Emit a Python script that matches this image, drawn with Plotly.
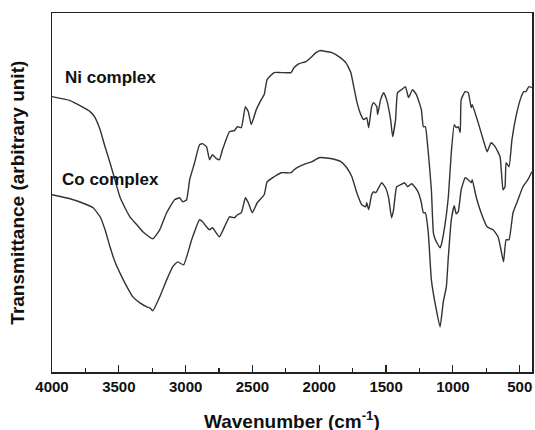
import plotly.graph_objects as go

# Ni complex spectrum (wavenumber cm-1, transmittance arbitrary unit)
ni_wavenumber = [4000, 3864, 3715, 3678, 3640, 3603, 3566, 3529, 3492, 3454, 3417, 3365, 3320, 3246,
                 3194, 3142, 3083, 3045, 3022, 2993, 2970, 2933, 2896, 2873, 2844, 2821, 2799, 2769,
                 2747, 2724, 2672, 2635, 2613, 2583, 2553, 2531, 2509, 2471, 2434, 2412, 2390, 2338,
                 2285, 2211, 2188, 2151, 2099, 2062, 2025, 1987, 1950, 1905, 1853, 1801, 1764, 1742,
                 1719, 1689, 1667, 1645, 1630, 1608, 1593, 1570, 1563, 1541, 1518, 1496, 1466, 1451,
                 1429, 1414, 1384, 1355, 1332, 1302, 1273, 1236, 1221, 1206, 1184, 1161, 1146, 1131,
                 1096, 1087, 1057, 1034, 1012, 990, 975, 960, 945, 938, 908, 885, 863, 855, 811, 773,
                 744, 714, 684, 647, 625, 610, 602, 580, 558, 528, 491, 469, 454, 431, 409]
ni_transmittance = [275, 271, 260, 254, 242, 225, 209, 192, 175, 164, 155, 147, 140, 133,
                    142, 159, 172, 174, 170, 172, 192, 209, 227, 228, 225, 212, 217, 213,
                    212, 222, 240, 241, 245, 244, 265, 260, 247, 262, 272, 277, 292, 299,
                    299, 299, 304, 308, 310, 314, 319, 321, 320, 319, 315, 309, 299, 285,
                    270, 257, 252, 254, 244, 265, 269, 265, 257, 272, 279, 272, 252, 235,
                    252, 279, 282, 285, 274, 282, 277, 262, 245, 245, 219, 182, 139, 132,
                    124, 127, 149, 175, 219, 247, 244, 245, 239, 272, 280, 279, 264, 267, 249, 232,
                    220, 229, 225, 215, 182, 185, 209, 205, 232, 255, 274, 280, 280, 285, 284]

# Co complex spectrum
co_wavenumber = [4000, 3864, 3739, 3692, 3640, 3603, 3566, 3529, 3492, 3439, 3395, 3342, 3290, 3268,
                 3246, 3194, 3142, 3097, 3060, 3015, 2955, 2896, 2873, 2844, 2821, 2799, 2747, 2672,
                 2635, 2613, 2583, 2553, 2531, 2501, 2464, 2412, 2390, 2338, 2285, 2211, 2188, 2151,
                 2099, 2054, 2002, 1965, 1905, 1838, 1794, 1756, 1719, 1682, 1652, 1645, 1630, 1608,
                 1593, 1578, 1563, 1533, 1504, 1481, 1459, 1444, 1421, 1392, 1362, 1339, 1310, 1280,
                 1258, 1236, 1221, 1206, 1184, 1161, 1131, 1096, 1072, 1049, 1034, 1012, 990, 975,
                 960, 938, 908, 885, 863, 855, 826, 789, 744, 699, 662, 640, 621, 602, 580, 550,
                 513, 476, 439, 409]
co_transmittance = [177, 173, 167, 164, 155, 142, 125, 110, 99, 85, 75, 69, 65, 64,
                    61, 75, 92, 105, 110, 107, 132, 152, 150, 145, 142, 144, 135, 155,
                    154, 157, 159, 174, 169, 159, 169, 177, 190, 195, 199, 199, 202, 205,
                    208, 210, 214, 214, 213, 210, 204, 195, 179, 167, 165, 169, 162, 177,
                    180, 179, 182, 189, 184, 174, 154, 162, 185, 187, 189, 185, 188, 184,
                    179, 169, 159, 159, 139, 92, 67, 45, 70, 85, 115, 152, 166, 158,
                    160, 182, 194, 192, 189, 192, 175, 159, 145, 142, 135, 122, 110, 132, 132, 159,
                    172, 185, 192, 200]

x_tick_values = [4000, 3500, 3000, 2500, 2000, 1500, 1000, 500]
x_tick_labels = ["4000", "3500", "3000", "2500", "2000", "1500", "1000", "500"]
x_minor_ticks = [3750, 3250, 2750, 2250, 1750, 1250, 750]

FONT = "Liberation Sans, Arial, Helvetica, sans-serif"
LINE = "#333333"

fig = go.Figure()
fig.add_trace(go.Scatter(x=ni_wavenumber, y=ni_transmittance, mode="lines",
                         line=dict(color=LINE, width=1.4, shape="spline", smoothing=0.4),
                         name="Ni complex", showlegend=False))
fig.add_trace(go.Scatter(x=co_wavenumber, y=co_transmittance, mode="lines",
                         line=dict(color=LINE, width=1.4, shape="spline", smoothing=0.4),
                         name="Co complex", showlegend=False))

fig.update_layout(
    width=535, height=430,
    margin=dict(l=52, r=1, t=13, b=58),
    paper_bgcolor="white", plot_bgcolor="white",
    font=dict(family=FONT, color="#111111"),
    xaxis=dict(
        range=[4000, 408],
        tickmode="array", tickvals=x_tick_values,
        ticktext=["<b>%s</b>" % t for t in x_tick_labels],
        tickfont=dict(size=15, family=FONT, color="#111111"),
        ticks="inside", ticklen=7, tickwidth=1.2, tickcolor="#222222",
        minor=dict(ticks="inside", ticklen=4, tickwidth=1.2, tickcolor="#222222",
                   tickvals=x_minor_ticks),
        showline=True, linecolor="#222222", linewidth=1.5, mirror=True,
        showgrid=False, zeroline=False,
    ),
    yaxis=dict(
        range=[0, 358.5],
        showticklabels=False, ticks="",
        showline=True, linecolor="#222222", linewidth=1.5, mirror=True,
        showgrid=False, zeroline=False,
    ),
    annotations=[
        dict(text="<b>Ni complex</b>", x=3920, y=294, xref="x", yref="y",
             xanchor="left", yanchor="middle", showarrow=False,
             font=dict(size=17, family=FONT, color="#111111")),
        dict(text="<b>Co complex</b>", x=3940, y=192, xref="x", yref="y",
             xanchor="left", yanchor="middle", showarrow=False,
             font=dict(size=17, family=FONT, color="#111111")),
        dict(text="<b>Wavenumber (cm<sup>-1</sup>)</b>", x=0.5, y=-0.133,
             xref="paper", yref="paper", xanchor="center", yanchor="middle",
             showarrow=False, font=dict(size=19, family=FONT, color="#111111")),
        dict(text="<b>Transmittance (arbitrary unit)</b>", x=-0.0726, y=0.5,
             xref="paper", yref="paper", xanchor="center", yanchor="middle",
             textangle=-90, showarrow=False,
             font=dict(size=19, family=FONT, color="#111111")),
    ],
)

fig.write_html("out.html",
               config={"displayModeBar": False, "staticPlot": True},
               post_script="document.body.style.margin='0px';document.body.style.overflow='hidden';")
